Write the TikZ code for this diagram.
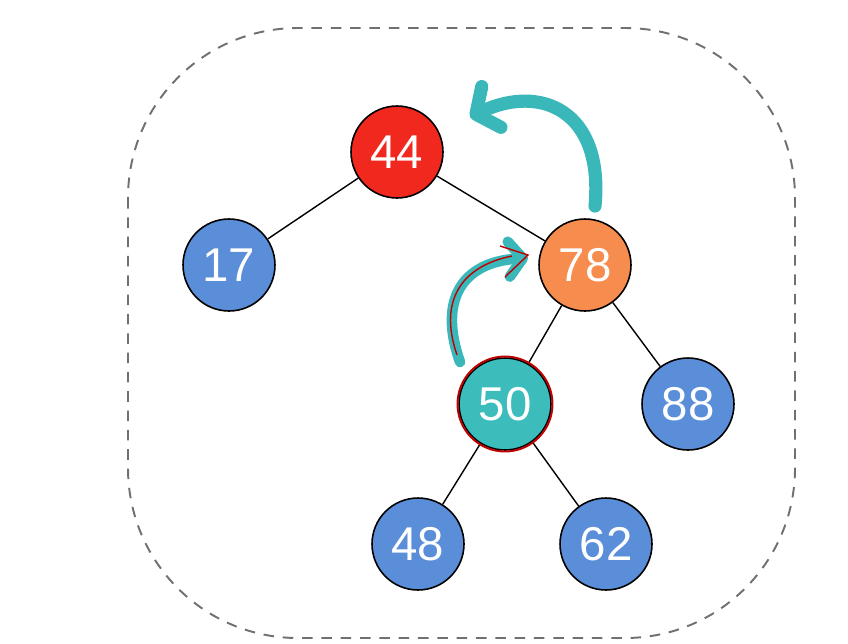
\documentclass[tikz,border=0pt]{standalone}
\usepackage{fontspec}
\setmainfont{Liberation Sans}
\usepackage{xcolor}
\usetikzlibrary{arrows.meta, positioning, calc}
\definecolor{nodered}{HTML}{F0281E}
\definecolor{nodeorange}{HTML}{F68C4E}
\definecolor{nodeteal}{HTML}{3DBCBC}
\definecolor{nodeblue}{HTML}{5B8ED8}
\definecolor{arrowteal}{HTML}{3AB7B9}
\definecolor{pengray}{HTML}{707070}

\begin{document}
\begin{tikzpicture}[x=0.02cm,y=-0.02cm,
  key/.style={circle,draw=black,line width=0.9pt,minimum size=1.84cm,inner sep=0pt,
    text=white,font=\fontsize{27}{32}\selectfont},
  edge/.style={line width=0.8pt},
  rotarrow/.style={arrowteal,line width=7.5pt,line cap=round,
    -{Straight Barb[length=3.4mm,width=9mm,round]}}]
  % page and frame
  \useasboundingbox (0,0) rectangle (848,643);
  \draw[pengray,dashed,line width=1.1pt,dash pattern=on 6pt off 5pt,rounded corners=3.4cm]
    (128,28) rectangle (795,638);
  % tree
  \node[key,fill=nodered]    (n44) at (397,152) {44};
  \node[key,fill=nodeblue]   (n17) at (229,265) {17};
  \node[key,fill=nodeorange] (n78) at (585,265) {78};
  \node[key,fill=nodeteal]   (n50) at (505,404) {50};
  \node[key,fill=nodeblue]   (n88) at (688,404) {88};
  \node[key,fill=nodeblue]   (n48) at (418,544) {48};
  \node[key,fill=nodeblue]   (n62) at (606,544) {62};
  \foreach \a/\b in {n44/n17,n44/n78,n78/n50,n78/n88,n50/n48,n50/n62}
    \draw[edge] (\a) -- (\b);
  % rotation arrows
  \coordinate (up1) at (595,206);
  \coordinate (to44) at (470,117);
  \draw[rotarrow] (up1) .. controls (604,110) and (540,84) .. (to44);
  \coordinate (up2) at (460,362);
  \coordinate (to78) at (528,258);
  \draw[rotarrow,line width=6pt,-{Straight Barb[length=2.8mm,width=7mm,round]}]
    (up2) .. controls (438,300) and (462,262) .. (to78);
  % red pen marks
  \draw[red!75!black,line width=0.8pt] (457,355) .. controls (438,300) and (462,266) .. (512,256)
    (500,246) -- (528,255) -- (505,277);
  \draw[red!75!black,line width=1.1pt] (n50) circle[radius=47.5];
\end{tikzpicture}
\end{document}
